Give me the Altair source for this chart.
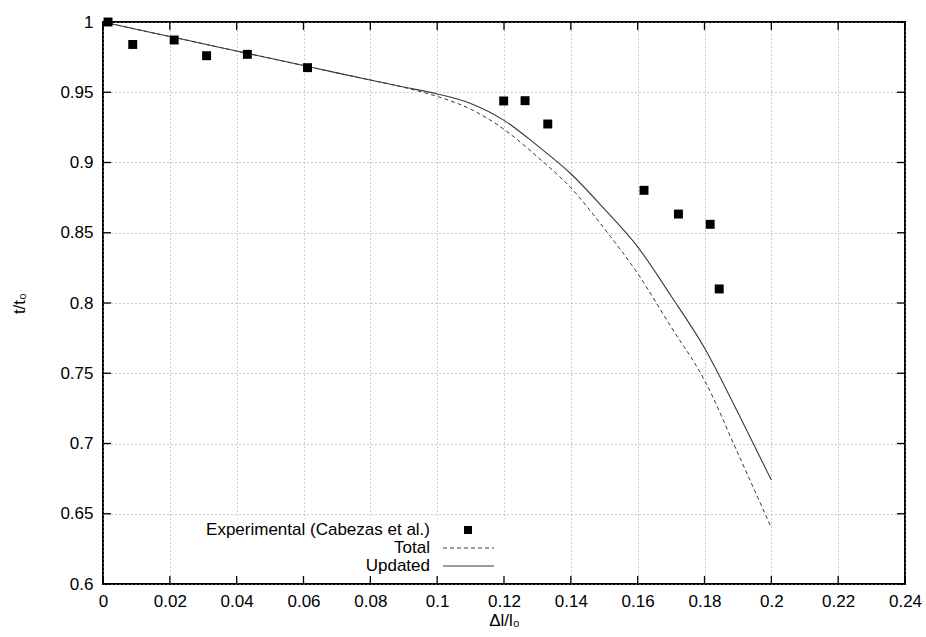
import altair as alt
import pandas as pd

# Experimental points (Cabezas et al.)
exp_x = [0.0015, 0.0089, 0.0213, 0.0310, 0.0432, 0.0612, 0.1199, 0.1263, 0.1331, 0.1619, 0.1722, 0.1817, 0.1844]
exp_y = [1.000, 0.984, 0.9872, 0.976, 0.977, 0.9675, 0.9438, 0.944, 0.9274, 0.8802, 0.8633, 0.856, 0.810]

# Model curves
curve_x = [0.00, 0.01, 0.02, 0.03, 0.04, 0.05, 0.06, 0.07, 0.08, 0.09, 0.10,
           0.11, 0.12, 0.13, 0.14, 0.15, 0.16, 0.17, 0.18, 0.19, 0.20]
updated_y = [1.0, 0.9948, 0.9897, 0.9845, 0.9793, 0.9742, 0.969, 0.9638, 0.9587, 0.9537, 0.9488,
             0.9420, 0.930, 0.912, 0.892, 0.867, 0.840, 0.805, 0.768, 0.722, 0.674]
total_y = [1.0, 0.9948, 0.9897, 0.9845, 0.9793, 0.9742, 0.969, 0.9638, 0.9587, 0.9535, 0.947,
           0.9380, 0.9236, 0.904, 0.882, 0.853, 0.821, 0.783, 0.745, 0.693, 0.640]

x_ticks = [0, 0.02, 0.04, 0.06, 0.08, 0.1, 0.12, 0.14, 0.16, 0.18, 0.2, 0.22, 0.24]
y_ticks = [0.6, 0.65, 0.7, 0.75, 0.8, 0.85, 0.9, 0.95, 1.0]
legend_labels = ["Experimental (Cabezas et al.)", "Total", "Updated"]

FONT = "Liberation Sans"
W, H = 802, 562

exp_df = pd.DataFrame({"x": exp_x, "y": exp_y})
upd_df = pd.DataFrame({"x": curve_x, "y": updated_y})
tot_df = pd.DataFrame({"x": curve_x, "y": total_y})
xt_df = pd.DataFrame({"x": x_ticks})
yt_df = pd.DataFrame({"y": y_ticks})

xscale = alt.Scale(domain=[0, 0.24], nice=False, zero=False)
yscale = alt.Scale(domain=[0.6, 1.0], nice=False, zero=False)

xaxis = alt.Axis(values=x_ticks, format="~g", grid=True, gridDash=[1, 3], gridColor="#9a9a9a",
                 ticks=False, domain=False, labelPadding=9, title="Δl/l₀",
                 titlePadding=3, labelFlush=False)
yaxis = alt.Axis(values=y_ticks, format="~g", grid=True, gridDash=[1, 3], gridColor="#9a9a9a",
                 ticks=False, domain=False, labelPadding=10, title="t/t₀",
                 titlePadding=31)

def X(axis=None):
    if axis is None:
        return alt.X("x:Q", scale=xscale)
    return alt.X("x:Q", scale=xscale, axis=axis)

def Y(axis=None):
    if axis is None:
        return alt.Y("y:Q", scale=yscale)
    return alt.Y("y:Q", scale=yscale, axis=axis)

# axes + grid (invisible carrier layer)
base_axes = alt.Chart(exp_df).mark_point(opacity=0).encode(x=X(xaxis), y=Y(yaxis))

# white key box hiding the grid
key_box = alt.Chart(exp_df.head(1)).mark_rect(color="white").encode(
    x=alt.value(77), x2=alt.value(407), y=alt.value(497), y2=alt.value(560)
)

tick_style = dict(color="black", strokeWidth=1.3)
bottom_ticks = alt.Chart(xt_df).mark_rule(**tick_style).encode(
    x=X(), y=alt.value(H), y2=alt.value(H - 8))
top_ticks = alt.Chart(xt_df).mark_rule(**tick_style).encode(
    x=X(), y=alt.value(0), y2=alt.value(8))
left_ticks = alt.Chart(yt_df).mark_rule(**tick_style).encode(
    y=Y(), x=alt.value(0), x2=alt.value(8))
right_ticks = alt.Chart(yt_df).mark_rule(**tick_style).encode(
    y=Y(), x=alt.value(W), x2=alt.value(W - 8))

total_line = alt.Chart(tot_df).mark_line(color="#3a3a3a", strokeWidth=1, strokeDash=[4, 3],
                                         interpolate="monotone").encode(x=X(), y=Y())
updated_line = alt.Chart(upd_df).mark_line(color="#3a3a3a", strokeWidth=1.1,
                                           interpolate="monotone").encode(x=X(), y=Y())
points = alt.Chart(exp_df).mark_square(color="black", size=80, opacity=1).encode(
    x=X(), y=Y())

# legend (key)
leg_df = pd.DataFrame({"label": legend_labels})
row_y = [508, 526, 544]
leg_texts = [
    alt.Chart(leg_df.iloc[[i]]).mark_text(align="right", baseline="middle", font=FONT,
                                          fontSize=17, color="black").encode(
        x=alt.value(327), y=alt.value(row_y[i]), text="label:N")
    for i in range(3)
]
leg_sym = alt.Chart(leg_df.head(1)).mark_square(color="black", size=64, opacity=1).encode(
    x=alt.value(365), y=alt.value(row_y[0]))
leg_dash = alt.Chart(leg_df.head(1)).mark_rule(color="#3a3a3a", strokeWidth=1, strokeDash=[4, 3]).encode(
    x=alt.value(340), x2=alt.value(391), y=alt.value(row_y[1]))
leg_solid = alt.Chart(leg_df.head(1)).mark_rule(color="#3a3a3a", strokeWidth=1.1).encode(
    x=alt.value(340), x2=alt.value(391), y=alt.value(row_y[2]))

chart = alt.layer(
    base_axes, key_box, total_line, updated_line, points,
    bottom_ticks, top_ticks, left_ticks, right_ticks,
    *leg_texts, leg_sym, leg_dash, leg_solid,
).properties(
    width=W, height=H,
    autosize=alt.AutoSizeParams(type="none"),
    padding={"left": 103, "top": 22, "right": 21, "bottom": 53},
).configure_view(
    stroke="black", strokeWidth=2
).configure_axis(
    labelFont=FONT, labelFontSize=17, labelColor="black",
    titleFont=FONT, titleFontSize=17, titleFontWeight="normal", titleColor="black",
)

chart.save("out.html", embed_options={"renderer": "svg", "actions": False})
